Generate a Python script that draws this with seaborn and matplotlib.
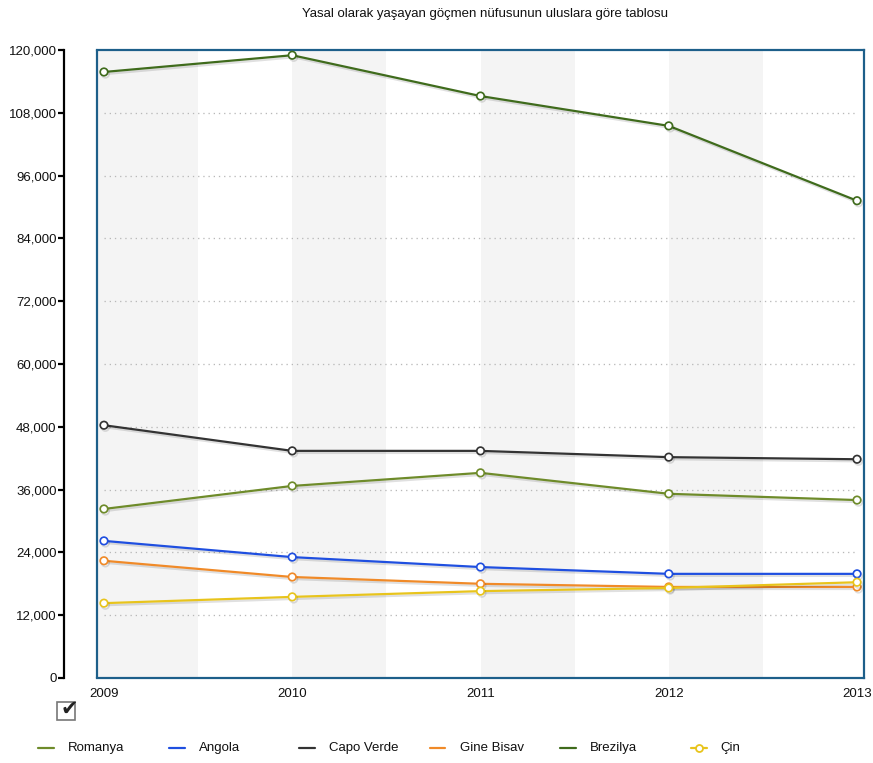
import matplotlib
matplotlib.use("Agg")
import matplotlib.pyplot as plt
import matplotlib.patheffects as pe
from matplotlib.lines import Line2D
from matplotlib.patches import Rectangle
import seaborn as sns
import pandas as pd

years = [2009, 2010, 2011, 2012, 2013]
countries = ["Romanya", "Angola", "Capo Verde", "Gine Bisav", "Brezilya", "Çin"]
romanya = [32300, 36700, 39200, 35200, 34000]
angola = [26200, 23100, 21200, 19900, 19900]
capo_verde = [48300, 43400, 43400, 42200, 41800]
gine_bisav = [22400, 19300, 18000, 17400, 17400]
brezilya = [115800, 119000, 111200, 105500, 91200]
cin = [14300, 15500, 16600, 17200, 18300]
colors = ["#6e8b2a", "#1f4fe0", "#333333", "#f08a28", "#3f6b1c", "#e8c41c"]
y_ticks = list(range(0, 120001, 12000))
title = "Yasal olarak yaşayan göçmen nüfusunun uluslara göre tablosu"

series = [romanya, angola, capo_verde, gine_bisav, brezilya, cin]
df = pd.DataFrame(
    [(y, c, v) for c, vals in zip(countries, series) for y, v in zip(years, vals)],
    columns=["Yıl", "Ülke", "Nüfus"],
)

sns.set_theme(style="white")
plt.rcParams["font.family"] = ["Liberation Sans", "DejaVu Sans"]

W, H = 873, 763
PT = 0.72  # points per pixel at 100 dpi
FS = 9.5
fig = plt.figure(figsize=(W / 100, H / 100), dpi=100)
ax = fig.add_axes([97 / W, 85 / H, (864 - 97) / W, (678 - 50) / H])

pad = 0.037
ax.set_xlim(years[0] - pad, years[-1] + pad)
ax.set_ylim(0, 120000)

# alternating background bands
for i, yr in enumerate(years[:-1]):
    x0 = ax.get_xlim()[0] if i == 0 else yr
    ax.axvspan(x0, yr + 0.5, color="#f4f4f4", zorder=0, lw=0)

# dotted horizontal guides
ax.hlines(y_ticks[1:-1], years[0], years[-1], colors="#b8b8b8",
          linestyles=(0, (1, 3)), linewidth=1.3 * PT, zorder=1)

sns.lineplot(
    data=df, x="Yıl", y="Nüfus", hue="Ülke", hue_order=countries,
    palette=colors, marker="o", markersize=7.5 * PT, markerfacecolor="white",
    markeredgewidth=1.7 * PT, linewidth=2.2 * PT, legend=False, ax=ax,
    zorder=3,
)
for line in ax.get_lines():
    if line.get_marker() == "o":
        line.set_markeredgecolor(line.get_color())
        line.set_path_effects([
            pe.SimpleLineShadow(offset=(1, -1.5), shadow_color="#000000", alpha=0.12),
            pe.Normal(),
        ])
        line.set_clip_on(False)

# frame
frame_col = "#1d5f8a"
for s in ["top", "right", "bottom"]:
    ax.spines[s].set_color(frame_col)
    ax.spines[s].set_linewidth(2.2 * PT)
ax.add_line(Line2D([0, 0], [0, 1], transform=ax.transAxes, color=frame_col,
                   lw=2.2 * PT, clip_on=False, zorder=5))

# detached value axis
ax.spines["left"].set_position(("outward", 33 * PT))
ax.spines["left"].set_color("black")
ax.spines["left"].set_linewidth(2.2 * PT)
ax.set_yticks(y_ticks)
ax.set_yticklabels([f"{v:,}" for v in y_ticks])
ax.tick_params(axis="y", direction="out", length=6 * PT, width=2.2 * PT,
               color="black", labelsize=FS, pad=1, labelcolor="#111111", left=True)

ax.set_xticks(years)
ax.set_xticklabels([str(y) for y in years])
ax.tick_params(axis="x", length=0, labelsize=FS, pad=10 * PT, labelcolor="#111111")
ax.set_xlabel("")
ax.set_ylabel("")
ax.grid(False)

fig.text(485 / W, 1 - 14 / H, title, ha="center", va="center", fontsize=FS,
         color="#111111")

# checkbox
fig.patches.append(Rectangle((57 / W, 1 - 720 / H), 18 / W, 18 / H,
                             transform=fig.transFigure, fill=False,
                             edgecolor="#777777", lw=1.2))
fig.text(69 / W, 1 - 709 / H, "✔", ha="center", va="center", fontsize=15,
         color="#222222", family=["DejaVu Sans"])

# legend row
ly = 1 - 748 / H
for i, (name, col) in enumerate(zip(countries, colors)):
    x0 = 38 + 130.5 * i
    fig.add_artist(Line2D([x0 / W, (x0 + 16) / W], [ly, ly], color=col,
                          lw=2.2 * PT, transform=fig.transFigure))
    if name == "Çin":
        fig.add_artist(Line2D([(x0 + 8) / W], [ly], marker="o", markersize=7 * PT,
                              markerfacecolor="white", markeredgecolor=col,
                              markeredgewidth=1.3, transform=fig.transFigure))
    fig.text((x0 + 30) / W, ly, name, ha="left", va="center", fontsize=FS,
             color="#111111")

fig.savefig("out.png", dpi=100)
